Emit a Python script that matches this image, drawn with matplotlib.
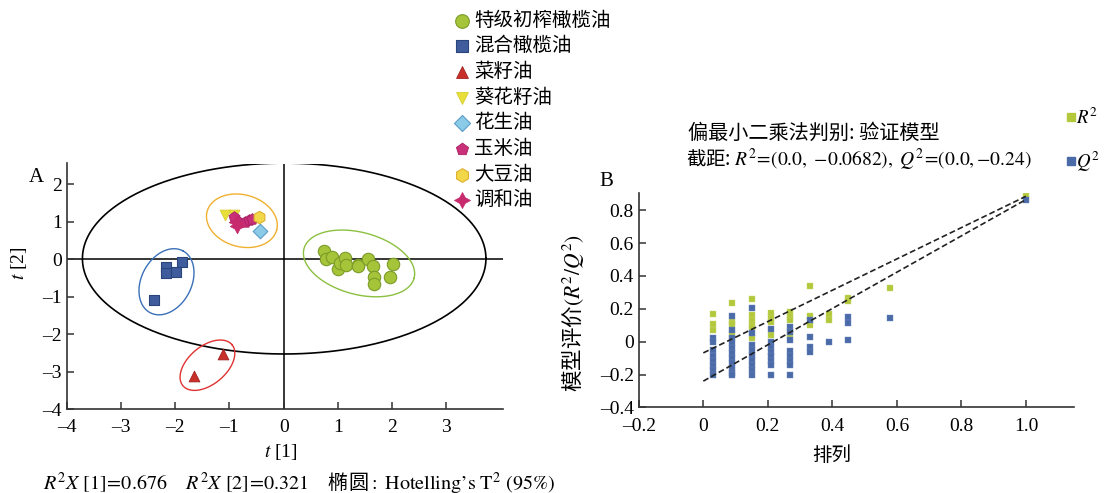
import numpy as np
import matplotlib
matplotlib.use("Agg")
import matplotlib.pyplot as plt
from matplotlib.lines import Line2D
from matplotlib.ticker import FuncFormatter

plt.rcParams["font.family"] = ["Liberation Serif", "Noto Sans CJK SC"]
plt.rcParams["mathtext.fontset"] = "stix"
CJK = "Noto Sans CJK SC"

# ---- A: PLS-DA score plot (t[1] / t[2])
group_names = ["特级初榨橄榄油", "混合橄榄油", "菜籽油", "葵花籽油",
               "花生油", "玉米油", "大豆油", "调和油"]
evoo_t1 = [0.75, 0.78, 0.89, 1.01, 1.04, 1.13, 1.15, 1.37, 1.38, 1.56,
           1.64, 1.66, 1.67, 1.97, 2.01]
evoo_t2 = [0.22, 0.00, 0.05, -0.25, -0.10, 0.04, -0.16, -0.14, -0.18, 0.01,
           -0.17, -0.48, -0.65, -0.47, -0.12]
mixed_olive_t1 = [-1.88, -2.17, -2.17, -1.99, -2.39]
mixed_olive_t2 = [-0.08, -0.21, -0.375, -0.34, -1.10]
rapeseed_t1 = [-1.12, -1.66]
rapeseed_t2 = [-2.54, -3.13]
sunflower_t1 = [-1.09, -0.92]
sunflower_t2 = [1.19, 1.19]
peanut_t1 = [-0.44]
peanut_t2 = [0.76]
corn_t1 = [-0.92, -0.83, -0.72, -0.64, -0.58]
corn_t2 = [1.12, 1.01, 0.99, 1.05, 1.07]
soybean_t1 = [-0.45]
soybean_t2 = [1.14]
blend_t1 = [-0.86, -0.88]
blend_t2 = [0.90, 1.01]

# ---- B: permutation test
perm_corr = [0.03, 0.09, 0.15, 0.21, 0.27, 0.33, 0.39, 0.45, 0.58, 1.0]
r2_perm = [
    [0.17, 0.105, 0.07],
    [0.235, 0.12, 0.105, 0.045],
    [0.257, 0.165, 0.13, 0.10, 0.085, 0.025],
    [0.172, 0.145, 0.118, 0.038],
    [0.18, 0.15, 0.13, 0.045],
    [0.337, 0.155, 0.10],
    [0.17, 0.13],
    [0.265, 0.245],
    [0.327],
    [0.885],
]
q2_perm = [
    [0.02, 0.0, -0.052, -0.085, -0.115, -0.145, -0.175, -0.205],
    [0.155, 0.07, 0.02, -0.01, -0.04, -0.07, -0.10, -0.13, -0.16, -0.19, -0.205],
    [0.205, 0.05, -0.02, -0.05, -0.08, -0.11, -0.14, -0.17, -0.205],
    [0.08, 0.0, -0.03, -0.06, -0.09, -0.12, -0.142, -0.2],
    [0.09, 0.06, 0.01, -0.058, -0.09, -0.12, -0.142, -0.2],
    [0.135, 0.03, -0.03, -0.062],
    [0.0],
    [0.15, 0.115, 0.01],
    [0.144],
    [0.865],
]
r2_intercept = -0.0682
q2_intercept = -0.24


def fmt_num(v, pos):
    if abs(v) < 1e-9:
        return "0"
    return f"{v:.1f}".replace("-", "\u2013")


def fmt_int(v, pos):
    return f"{v:.0f}".replace("-", "\u2013")


def style_axes(ax):
    for side in ("top", "right"):
        ax.spines[side].set_visible(False)
    for side in ("left", "bottom"):
        ax.spines[side].set_linewidth(1.2)
        ax.spines[side].set_color("#333333")
    ax.tick_params(direction="in", length=5, width=1.1, labelsize=14,
                   color="#333333")
    ax.tick_params(axis="x", pad=7.5)


def ellipse(ax, cx, cy, a_px, b_px, angle, color, sx, sy, lw=1.0):
    t = np.linspace(0, 2 * np.pi, 400)
    th = np.deg2rad(angle)
    px = a_px * np.cos(t) * np.cos(th) - b_px * np.sin(t) * np.sin(th)
    py = a_px * np.cos(t) * np.sin(th) + b_px * np.sin(t) * np.cos(th)
    ax.plot(cx + px / sx, cy + py / sy, color=color, lw=lw, zorder=2)


def main():
    W, H = 1106, 493
    fig = plt.figure(figsize=(W / 100, H / 100), dpi=100)

    # ---------------- panel A ----------------
    axA = fig.add_axes([66.7 / W, 1 - 409 / H, 436.6 / W, 245.5 / H])
    axA.set_xlim(-4, 4.05)
    axA.set_ylim(-4, 2.56)
    style_axes(axA)
    axA.set_xticks(range(-4, 4))
    axA.set_yticks(range(-4, 3))
    axA.xaxis.set_major_formatter(FuncFormatter(fmt_int))
    axA.yaxis.set_major_formatter(FuncFormatter(fmt_int))

    axA.axhline(0, color="black", lw=1.1, zorder=1)
    axA.axvline(0, color="black", lw=1.1, zorder=1)

    sx = 436.6 / 8.05
    sy = 245.5 / 6.56
    # Hotelling's T2 ellipse
    ellipse(axA, 0.01, 0.02, 3.72 * sx, 2.55 * sy, 0, "black", sx, sy, lw=1.2)
    ellipse(axA, 1.39, -0.11, 57, 31, -15, "#8cc040", sx, sy)
    ellipse(axA, -2.16, -0.60, 35, 25, 62, "#3a70b8", sx, sy)
    ellipse(axA, -1.405, -2.83, 32, 19, 40, "#e03232", sx, sy)
    ellipse(axA, -0.77, 1.03, 36, 26, -15, "#f0b030", sx, sy)

    handles = []
    handles.append(axA.scatter(evoo_t1, evoo_t2, s=80, marker="o",
                               facecolor="#a5c43a", edgecolor="#7c9c28",
                               linewidth=0.8, zorder=3))
    handles.append(axA.scatter(mixed_olive_t1, mixed_olive_t2, s=55, marker="s",
                               facecolor="#3f5c9c", edgecolor="#2a447c",
                               linewidth=0.8, zorder=3))
    handles.append(axA.scatter(rapeseed_t1, rapeseed_t2, s=60, marker="^",
                               facecolor="#c8302a", edgecolor="#a02020",
                               linewidth=0.6, zorder=3))
    handles.append(axA.scatter(sunflower_t1, sunflower_t2, s=60, marker="v",
                               facecolor="#e8e038", edgecolor="#d8cc30",
                               linewidth=0.6, zorder=3))
    handles.append(axA.scatter(peanut_t1, peanut_t2, s=55, marker="D",
                               facecolor="#8ccbe8", edgecolor="#5a9cc8",
                               linewidth=0.8, zorder=3))
    handles.append(axA.scatter(corn_t1, corn_t2, s=70, marker="p",
                               facecolor="#c8307a", edgecolor="#a82060",
                               linewidth=0.6, zorder=3))
    handles.append(axA.scatter(soybean_t1, soybean_t2, s=80, marker="h",
                               facecolor="#f2d848", edgecolor="#e0b030",
                               linewidth=0.8, zorder=3))
    handles.append(axA.scatter(blend_t1, blend_t2, s=110, marker=(4, 1, 0),
                               facecolor="#c82a6e", edgecolor="#c82a6e",
                               linewidth=0.5, zorder=4))

    fig.legend(handles, group_names, loc="upper left",
               bbox_to_anchor=(439 / W, 1 + 4 / H), frameon=False,
               prop={"family": CJK, "size": 14}, handletextpad=0.1,
               labelspacing=0.24, handlelength=1.0, borderpad=0.2,
               scatterpoints=1, markerscale=1.1)

    fig.text(36 / W, 1 - 178 / H, "A", fontsize=15, ha="center", va="center")
    fig.text(19 / W, 1 - 263 / H, "$t$ [2]", fontsize=14, rotation=90,
             ha="center", va="center")
    fig.text(281 / W, 1 - 452 / H, "$t$ [1]", fontsize=14,
             ha="center", va="center")
    fig.text(43 / W, 1 - 483 / H,
             r"$R^2X\ \mathrm{[1]\!=\!0.676}\quad\ R^2X\ \mathrm{[2]\!=\!0.321}\quad\ $"
             "椭圆"
             r"$\mathrm{:\ Hotelling’s\ T^2\ (95\%)}$",
             fontsize=14.5, family=CJK, ha="left", va="center")

    # ---------------- panel B ----------------
    axB = fig.add_axes([638.8 / W, 1 - 407.4 / H, 435.2 / W, 214.4 / H])
    axB.set_xlim(-0.2, 1.149)
    axB.set_ylim(-0.4, 0.905)
    style_axes(axB)
    axB.set_xticks([-0.2, 0, 0.2, 0.4, 0.6, 0.8, 1.0])
    axB.set_yticks([-0.4, -0.2, 0, 0.2, 0.4, 0.6, 0.8])
    axB.xaxis.set_major_formatter(FuncFormatter(fmt_num))
    axB.yaxis.set_major_formatter(FuncFormatter(fmt_num))

    green = "#b4c83c"
    blue = "#4a6aa8"
    for xv, vals in zip(perm_corr, r2_perm):
        axB.plot([xv] * len(vals), vals, ls="none", marker="s", ms=5,
                 color=green, mec="#c8d870", mew=0.3, zorder=2)
    for xv, vals in zip(perm_corr, q2_perm):
        axB.plot([xv] * len(vals), vals, ls="none", marker="s", ms=5,
                 color=blue, mec="#6c88bc", mew=0.3, zorder=3)

    axB.plot([0, perm_corr[-1]], [r2_intercept, r2_perm[-1][0]],
             color="#222222", lw=1.2, ls=(0, (3.5, 1.8)), zorder=4)
    axB.plot([0, perm_corr[-1]], [q2_intercept, q2_perm[-1][0]],
             color="#222222", lw=1.2, ls=(0, (3.5, 1.8)), zorder=4)

    # R2 / Q2 key at the right edge
    for label, color, ypx in (("$R^2$", green, 117), ("$Q^2$", blue, 161)):
        fig.add_artist(Line2D([1071 / W], [1 - ypx / H], ls="none",
                              marker="s", ms=5.5, color=color,
                              transform=fig.transFigure))
        fig.text(1076 / W, 1 - (ypx + 1) / H, label, fontsize=13.5,
                 ha="left", va="center")

    fig.text(606 / W, 1 - 182 / H, "B", fontsize=15, ha="center", va="center")
    fig.text(688 / W, 1 - 133 / H, "偏最小二乘法判别: 验证模型",
             fontsize=14.5, family=CJK, ha="left", va="center")
    fig.text(686 / W, 1 - 160 / H,
             "截距: "
             r"$R^2\!=\!\mathrm{(0.0,\ {-}0.0682),}\ Q^2\!=\!\mathrm{(0.0,{-}0.24)}$",
             fontsize=14, family=CJK, ha="left", va="center")
    fig.text(832 / W, 1 - 455 / H, "排列", fontsize=14, family=CJK,
             ha="center", va="center")
    fig.text(573 / W, 1 - 313 / H, "模型评价$(R^2/Q^2)$", fontsize=15.5,
             family=CJK, rotation=90, ha="center", va="center")

    fig.savefig("out.png", dpi=100)


if __name__ == "__main__":
    main()
